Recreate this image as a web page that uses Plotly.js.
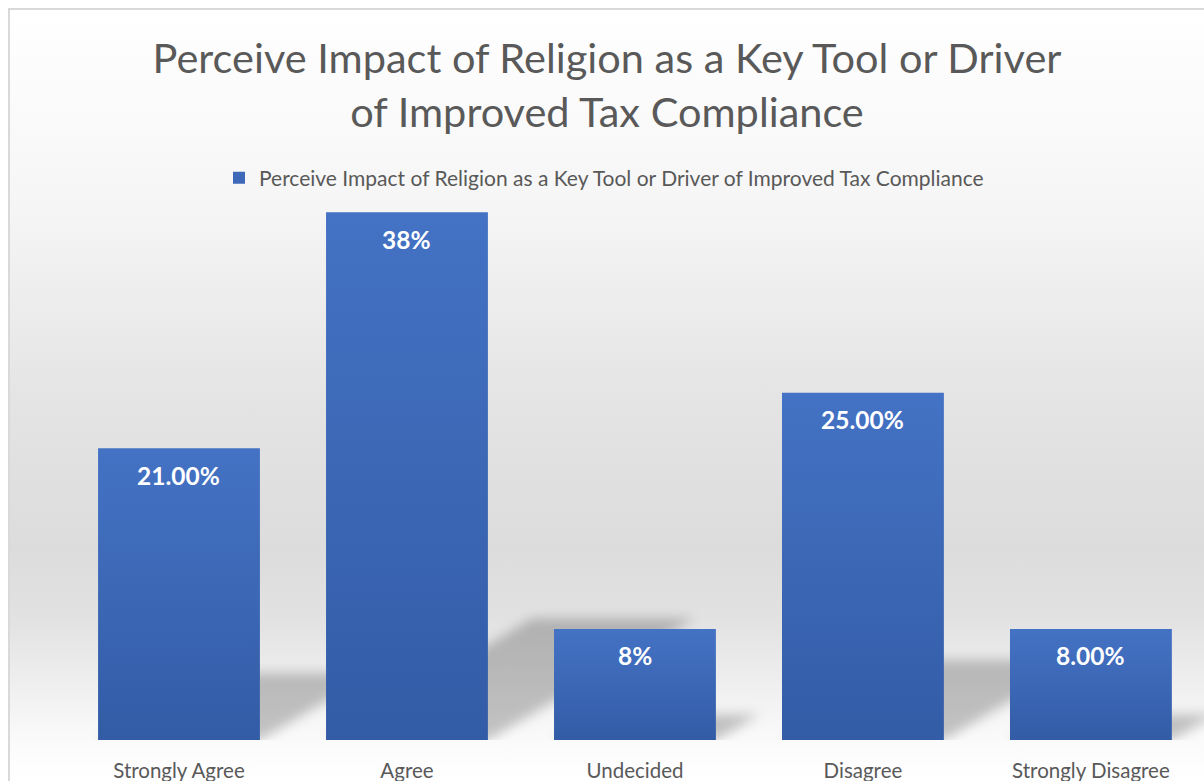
<!DOCTYPE html>
<html>
<head>
<meta charset="utf-8">
<script src="https://cdn.plot.ly/plotly-3.0.1.min.js"></script>
<style>
  html, body { margin: 0; padding: 0; background: #ffffff; }
  #frame {
    position: absolute; left: 8px; top: 8px; width: 1210px; height: 790px;
    border-left: 2px solid #d9d9d9; border-top: 2px solid #d9d9d9;
    background: linear-gradient(to bottom, #ffffff 0px, #f6f6f6 190px, #e4e4e4 390px, #dcdcdc 540px, #e2e2e2 610px, #f2f2f2 690px, #fbfbfb 735px, #ffffff 770px);
  }
  #chart { position: absolute; left: 0; top: 0; width: 1204px; height: 781px; }
</style>
</head>
<body>
<div id="frame"></div>
<div id="chart"></div>
<script>
const categories = ["Strongly Agree", "Agree", "Undecided", "Disagree", "Strongly Disagree"];
const values = [21, 38, 8, 25, 8];
const valueLabels = ["21.00%", "38%", "8%", "25.00%", "8.00%"];
const seriesName = "Perceive Impact of Religion as a Key Tool or Driver of Improved Tax Compliance";
const chartTitle = "Perceive Impact of Religion as a Key Tool or Driver<br>of Improved Tax Compliance";

const W = 1204, H = 781;
const margin = {l: 65, r: 0, t: 205, b: 41};
const xRange = [-0.5, 4.496];
const yRange = [0, 38.52];
const barWidth = 0.71;

const pxPerX = (W - margin.l - margin.r) / (xRange[1] - xRange[0]);
const pxPerY = (H - margin.t - margin.b) / (yRange[1] - yRange[0]);

// perspective shadows derived from the data values
const shadowScale = 0.23;
const shadowSkew = 1.7;
const shapes = values.map((v, i) => {
  const x0 = i - barWidth / 2, x1 = i + barWidth / 2;
  const dy = v * shadowScale;
  const dx = shadowSkew * dy * pxPerY / pxPerX;
  return {
    type: "path", xref: "x", yref: "y", layer: "below",
    path: `M ${x0} 0 L ${x1} 0 L ${x1 + dx} ${dy} L ${x0 + dx} ${dy} Z`,
    fillcolor: "rgba(0,0,0,0.22)", line: {width: 0}
  };
});

const annotations = values.map((v, i) => ({
  x: categories[i], y: v, xref: "x", yref: "y",
  text: "<b>" + valueLabels[i] + "</b>", showarrow: false,
  yanchor: "middle", yshift: -27,
  font: {family: "Lato, 'Open Sans', sans-serif", size: 24.5, color: "#ffffff"}
}));

const trace = {
  type: "bar", x: categories, y: values, name: seriesName,
  marker: {color: "#3d69b8", line: {width: 0}},
  width: barWidth, hoverinfo: "none", showlegend: true
};

const layout = {
  width: W, height: H, margin: margin,
  paper_bgcolor: "rgba(0,0,0,0)", plot_bgcolor: "rgba(0,0,0,0)",
  font: {family: "Lato, 'Open Sans', sans-serif", color: "#595959"},
  title: {
    text: chartTitle, xref: "container", yref: "container",
    x: 607 / W, xanchor: "center", y: 1 - 73 / H, yanchor: "top",
    font: {family: "Lato, 'Open Sans', sans-serif", size: 41.5, color: "#595959"}
  },
  showlegend: true,
  legend: {
    orientation: "h", xref: "container", yref: "container",
    x: 604 / W, xanchor: "center", y: 1 - 178 / H, yanchor: "middle",
    font: {size: 21, color: "#595959"}, bgcolor: "rgba(0,0,0,0)", itemwidth: 30
  },
  xaxis: {
    range: xRange, showgrid: false, zeroline: false, showline: false, ticks: "",
    tickfont: {size: 20.5, color: "#595959"}, ticklabelstandoff: 16, fixedrange: true
  },
  yaxis: {range: yRange, visible: false, fixedrange: true},
  shapes: shapes, annotations: annotations, bargap: 0.29
};

Plotly.newPlot("chart", [trace], layout, {displayModeBar: false, staticPlot: true}).then(gd => {
  const svg = gd.querySelector(".main-svg");
  const ns = "http://www.w3.org/2000/svg";
  let defs = svg.querySelector("defs");
  const grad = document.createElementNS(ns, "linearGradient");
  grad.setAttribute("id", "barGrad");
  grad.setAttribute("x1", "0"); grad.setAttribute("y1", "0");
  grad.setAttribute("x2", "0"); grad.setAttribute("y2", "1");
  [["0", "#4472c4"], ["1", "#335ca6"]].forEach(([o, c]) => {
    const s = document.createElementNS(ns, "stop");
    s.setAttribute("offset", o); s.setAttribute("stop-color", c);
    grad.appendChild(s);
  });
  defs.appendChild(grad);
  const filt = document.createElementNS(ns, "filter");
  filt.setAttribute("id", "shBlur");
  filt.setAttribute("filterUnits", "userSpaceOnUse");
  filt.setAttribute("x", "0"); filt.setAttribute("y", "0");
  filt.setAttribute("width", String(W)); filt.setAttribute("height", String(H));
  const blur = document.createElementNS(ns, "feGaussianBlur");
  blur.setAttribute("stdDeviation", "6");
  filt.appendChild(blur);
  defs.appendChild(filt);
  gd.querySelectorAll(".trace.bars .point path").forEach(p => { p.style.fill = "url(#barGrad)"; });
  gd.querySelectorAll(".shapelayer path").forEach(p => {
    p.setAttribute("filter", "url(#shBlur)");
    p.style.filter = "blur(6px)";
  });
});
</script>
</body>
</html>
